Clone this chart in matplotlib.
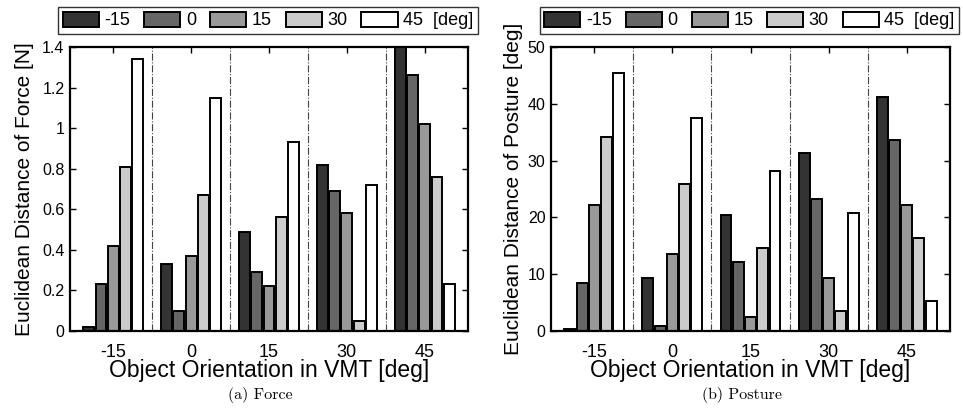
import matplotlib
matplotlib.use("Agg")
import matplotlib.pyplot as plt
import numpy as np

# data
orientations = ["-15", "0", "15", "30", "45"]
series_labels = ["-15", "0", "15", "30", "45  [deg]"]
colors = ["#333333", "#666666", "#999999", "#cccccc", "#ffffff"]

# rows: object orientation group, columns: series (-15..45)
force = [
    [0.02, 0.23, 0.42, 0.81, 1.34],
    [0.33, 0.10, 0.37, 0.67, 1.15],
    [0.49, 0.29, 0.22, 0.56, 0.93],
    [0.82, 0.69, 0.58, 0.05, 0.72],
    [1.45, 1.26, 1.02, 0.76, 0.23],
]
posture = [
    [0.4, 8.5, 22.2, 34.2, 45.5],
    [9.3, 0.8, 13.6, 25.9, 37.5],
    [20.5, 12.2, 2.4, 14.6, 28.1],
    [31.3, 23.3, 9.3, 3.6, 20.8],
    [41.2, 33.6, 22.2, 16.4, 5.3],
]

plt.rcParams["font.family"] = ["Liberation Sans", "DejaVu Sans"]

fig = plt.figure(figsize=(9.63, 4.09), dpi=100)
ax1 = fig.add_axes([0.0727, 0.1907, 0.4133, 0.6944])
ax2 = fig.add_axes([0.5722, 0.1907, 0.4143, 0.6944])


def draw(ax, data, ymax, ystep, ylabel, yticklabels, label_x):
    data = np.array(data)
    x = np.arange(1, len(orientations) + 1)
    for i in range(data.shape[1]):
        ax.bar(x + (i - 2) * 0.157, data[:, i], width=0.14, color=colors[i],
               edgecolor="black", linewidth=1.4, label=series_labels[i], zorder=2)
    for xv in x[:-1] + 0.5:
        ax.axvline(xv, color="#444444", linestyle="-.", linewidth=0.8, zorder=1)
    ax.set_xlim(0.445, 5.555)
    ax.set_ylim(0, ymax)
    ax.set_xticks(x)
    ax.set_xticklabels(orientations, fontsize=13)
    ax.set_yticks(np.arange(0, ymax + ystep / 2, ystep))
    ax.set_yticklabels(yticklabels, fontsize=11.5)
    ax.tick_params(direction="in", length=4, width=1, top=True, right=True)
    ax.tick_params(axis="x", pad=9)
    ax.tick_params(axis="y", pad=4)
    for s in ax.spines.values():
        s.set_linewidth(1.6)
    ax.set_xlabel("Object Orientation in VMT [deg]", fontsize=16.5, labelpad=-1)
    ax.set_ylabel(ylabel, fontsize=15)
    ax.yaxis.set_label_coords(label_x, 0.5)


draw(ax1, force, 1.4, 0.2, "Euclidean Distance of Force [N]",
     ["0", "0.2", "0.4", "0.6", "0.8", "1", "1.2", "1.4"], -0.09)
draw(ax2, posture, 50, 10, "Euclidean Distance of Posture [deg]",
     ["0", "10", "20", "30", "40", "50"], -0.07)

for ax in (ax1, ax2):
    handles, labels = ax.get_legend_handles_labels()
    bb = ax.get_position()
    leg = fig.legend(handles, labels, ncol=5, loc="center",
                     bbox_to_anchor=(bb.x0 + bb.width / 2 - 0.001, 0.95),
                     fontsize=13, frameon=True, fancybox=False, edgecolor="black",
                     handlelength=2.0, handleheight=0.9, handletextpad=0.3,
                     columnspacing=0.78, borderpad=0.25, borderaxespad=0)
    leg.get_frame().set_linewidth(1.0)

fig.text(0.27, 0.024, "(a) Force", family="cmr10", fontsize=11.5, ha="center")
fig.text(0.771, 0.024, "(b) Posture", family="cmr10", fontsize=11.5, ha="center")

fig.savefig("out.png", dpi=100)
